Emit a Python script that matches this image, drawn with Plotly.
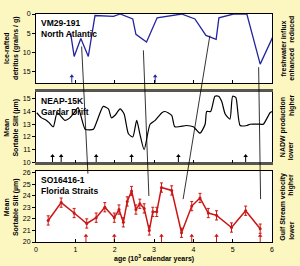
import plotly.graph_objects as go

# ---------------- data ----------------
ird_age = [0.88, 0.97, 1.14, 1.33, 1.50, 1.97, 2.14, 2.46, 2.54, 2.81, 3.08, 3.70,
           4.04, 4.32, 4.58, 4.65, 5.02, 5.36, 5.70, 6.02]
ird_val = [5.0, 11.1, 6.4, 11.1, 0.4, 0.6, 0.0, 1.3, 5.3, 7.3, 1.0, 0.0,
           1.3, 5.6, 6.6, 1.0, 0.0, 0.0, 13.1, 6.0]
ird_ctrl = [0.91, 3.03, 6.10]

neap_age = [0.02, 0.14, 0.27, 0.34, 0.44, 0.54, 0.74, 0.86, 0.97, 1.07, 1.25, 1.37,
            1.46, 1.71, 1.84, 1.92, 2.01, 2.14, 2.24, 2.35, 2.46, 2.56, 2.64, 2.75,
            2.90, 3.03, 3.20, 3.28, 3.45, 3.53, 3.83, 4.00, 4.17, 4.30, 4.34, 4.44,
            4.55, 4.64, 4.72, 4.81, 4.93, 5.00, 5.08, 5.19, 5.36, 5.44, 5.70, 5.78,
            5.95, 6.00]
neap_val = [13.9, 13.5, 13.3, 13.1, 12.8, 13.9, 13.3, 13.5, 13.9, 14.3, 12.6, 12.55,
            12.6, 14.4, 14.2, 13.5, 13.7, 14.2, 13.8, 12.25, 12.0, 13.3, 12.25, 11.0,
            13.0, 13.3, 13.9, 14.0, 13.7, 12.8, 12.9, 12.8, 12.3, 13.0, 14.0, 14.0,
            15.2, 15.2, 14.8, 13.8, 13.4, 15.2, 15.1, 12.9, 12.9, 13.0, 13.0, 13.0,
            13.9, 14.0]
neap_ctrl = [0.42, 0.64, 1.53, 2.43, 3.62, 5.33]

fs_age = [0.31, 0.64, 0.97, 1.29, 1.53, 1.75, 1.99, 2.11, 2.22, 2.32, 2.43, 2.54,
          2.64, 2.75, 2.88, 2.97, 3.07, 3.19, 3.45, 3.70, 3.96, 4.17, 4.38, 4.59,
          4.97, 5.33, 5.70]
fs_val = [21.86, 23.4, 22.5, 21.6, 22.1, 23.0, 22.1, 22.8, 21.7, 23.5, 24.4, 22.8,
          23.3, 22.9, 21.0, 22.6, 22.6, 24.7, 24.45, 20.8, 23.1, 23.8, 22.5, 22.3,
          21.25, 22.7, 21.15]
fs_err = [0.4] * len(fs_age)
fs_ctrl = [1.27, 1.99, 3.19, 3.96, 4.59, 5.70]

# correlation links: (age, value in top panel) -> (age, value in bottom panel)
link_top_age = [1.16, 2.73, 4.42, 5.66]
link_top_val = [8.5, 9.5, 5.65, 13.9]
link_bot_age = [1.32, 2.87, 3.74, 5.71]
link_bot_val = [25.9, 23.97, 23.7, 23.7]

x_ticks = [0, 1, 2, 3, 4, 5, 6]

# ---------------- layout geometry ----------------
R1 = [18, 0]
R2 = [10, 15.55]
R3 = [20, 26.1]
D1 = [0.698, 1.0]
D2 = [0.349, 0.659]
D3 = [0.0, 0.310]

BG = "#fcf6c1"
BLUE = "#2424a0"
RED = "#cc1515"
FONT = "Liberation Sans"

def to_paper(v, rng, dom):
    return dom[0] + (v - rng[0]) / (rng[1] - rng[0]) * (dom[1] - dom[0])

fig = go.Figure()

fig.add_trace(go.Scatter(x=ird_age, y=ird_val, mode="lines",
                         line=dict(color=BLUE, width=1.3), cliponaxis=False,
                         xaxis="x", yaxis="y", showlegend=False))
fig.add_trace(go.Scatter(x=neap_age, y=neap_val, mode="lines",
                         line=dict(color="black", width=1.2, shape="spline", smoothing=0.6),
                         xaxis="x2", yaxis="y2", showlegend=False))
fig.add_trace(go.Scatter(x=fs_age, y=fs_val, mode="lines+markers",
                         line=dict(color=RED, width=1.5),
                         marker=dict(color=RED, size=3),
                         error_y=dict(type="data", array=fs_err, color=RED,
                                      thickness=1, width=1.5),
                         xaxis="x3", yaxis="y3", showlegend=False))

# age control arrows (stem + small head)
for ages, xa, ya, ybase, yhead, col in [(ird_ctrl, "x", "y", 18.0, 16.3, BLUE),
                                        (neap_ctrl, "x2", "y2", 10.0, 10.5, "black"),
                                        (fs_ctrl, "x3", "y3", 20.0, 20.55, RED)]:
    sx, sy = [], []
    for a in ages:
        sx += [a, a, None]
        sy += [ybase, yhead, None]
    fig.add_trace(go.Scatter(x=sx, y=sy, mode="lines", line=dict(color=col, width=1),
                             cliponaxis=False, xaxis=xa, yaxis=ya, showlegend=False,
                             hoverinfo="skip"))
    fig.add_trace(go.Scatter(x=ages, y=[yhead] * len(ages), mode="markers",
                             marker=dict(symbol="triangle-up", size=4, color=col),
                             cliponaxis=False, xaxis=xa, yaxis=ya, showlegend=False,
                             hoverinfo="skip"))

tickfont = dict(family=FONT, size=7, color="black")
common_x = dict(range=[0, 6], tickvals=x_ticks, showgrid=False, zeroline=False,
                showline=True, mirror=True, linecolor="black", linewidth=1,
                ticks="inside", ticklen=3, tickcolor="black", tickfont=tickfont)
common_y = dict(showgrid=False, zeroline=False, showline=True, mirror=True,
                linecolor="black", linewidth=1, ticks="outside", ticklen=3,
                tickcolor="black", tickfont=tickfont)

fig.update_layout(
    width=300, height=266,
    margin=dict(l=36, r=28, t=10, b=24),
    paper_bgcolor=BG, plot_bgcolor="white",
    font=dict(family=FONT, size=7, color="black"),
    xaxis=dict(common_x, anchor="y", showticklabels=False),
    yaxis=dict(common_y, domain=D1, range=R1, tickvals=[0, 5, 10, 15], anchor="x"),
    xaxis2=dict(common_x, anchor="y2", showticklabels=False,
                linecolor="#555555", linewidth=2.5),
    yaxis2=dict(common_y, domain=D2, range=R2, tickvals=[10, 11, 12, 13, 14, 15],
                anchor="x2"),
    xaxis3=dict(common_x, anchor="y3", showticklabels=True, ticklabelstandoff=1),
    yaxis3=dict(common_y, domain=D3, range=R3, tickvals=[20, 21, 22, 23, 24, 25, 26],
                anchor="x3"),
)

ann = []
# panel names
for txt, xr, yr in [("VM29-191<br>North Atlantic", "x", "y"),
                    ("NEAP-15K<br>Gardar Drift", "x2", "y2"),
                    ("SO16416-1<br>Florida Straits", "x3", "y3")]:
    ann.append(dict(text="<b>" + txt + "</b>", xref=xr + " domain", yref=yr + " domain",
                    x=0.012, y=0.97, xanchor="left", yanchor="top", showarrow=False,
                    align="left", font=dict(family=FONT, size=8.5, color="black")))

# left axis titles
for txt, dom in [("Ice-rafted<br>detritus (grains / g)", D1),
                 ("Mean<br>Sortable Silt (µm)", D2),
                 ("Mean<br>Sortable Silt (µm)", D3)]:
    ann.append(dict(text="<b>" + txt + "</b>", xref="paper", yref="paper",
                    x=-0.104, y=(dom[0] + dom[1]) / 2, xanchor="center", yanchor="middle",
                    textangle=-90, showarrow=False,
                    font=dict(family=FONT, size=7, color="black")))

# right-side labels
for title, lo, hi, yr in [("freshwater influx", "enhanced", "reduced", "y"),
                          ("NADW production", "lower", "higher", "y2"),
                          ("Gulf Stream velocity", "lower", "higher", "y3")]:
    ann.append(dict(text="<b>" + title + "</b>", xref="paper", yref=yr + " domain",
                    x=1.047, y=0.5, xanchor="center", yanchor="middle", textangle=-90,
                    showarrow=False, font=dict(family=FONT, size=7, color="black")))
    ann.append(dict(text="<b>" + lo + "</b>", xref="paper", yref=yr + " domain",
                    x=1.082, y=0.0, xanchor="center", yanchor="bottom", textangle=-90,
                    showarrow=False, font=dict(family=FONT, size=7, color="black")))
    ann.append(dict(text="<b>" + hi + "</b>", xref="paper", yref=yr + " domain",
                    x=1.082, y=1.0, xanchor="center", yanchor="top", textangle=-90,
                    showarrow=False, font=dict(family=FONT, size=7, color="black")))

# x-axis title
ann.append(dict(text="<b>age (10<sup>3</sup> calendar years)</b>", xref="paper", yref="paper",
                x=0.5, y=-0.073, xanchor="center", yanchor="middle", showarrow=False,
                font=dict(family=FONT, size=7, color="black")))

fig.update_layout(annotations=ann)

# correlation links
shapes = []
for ta, tv, ba, bv in zip(link_top_age, link_top_val, link_bot_age, link_bot_val):
    shapes.append(dict(type="line", xref="x", yref="paper",
                       x0=ta, y0=to_paper(tv, R1, D1),
                       x1=ba, y1=to_paper(bv, R3, D3),
                       line=dict(color="black", width=0.8), layer="above"))
fig.update_layout(shapes=shapes)

fig.write_html("out.html")
